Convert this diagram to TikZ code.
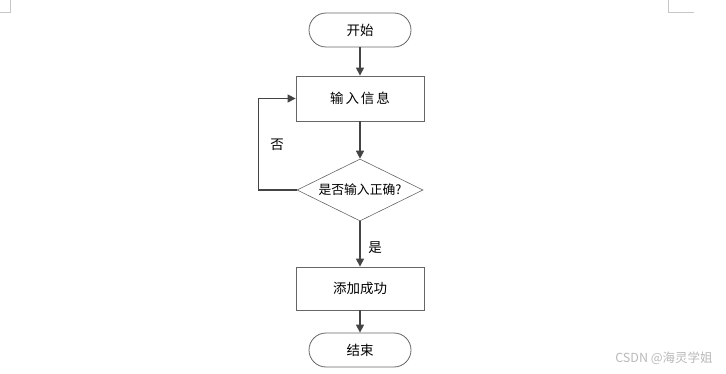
\documentclass[tikz,border=0pt]{standalone}
\usepackage{fontspec}
\setmainfont{Noto Sans CJK SC}
\usetikzlibrary{shapes.geometric,arrows.meta}
\definecolor{linegray}{HTML}{444444}
\definecolor{boxgray}{HTML}{666666}
\tikzset{
    term/.style={draw=boxgray, line width=0.8pt, rounded corners=17pt, minimum width=102pt, minimum height=34pt},
    proc/.style={draw=boxgray, line width=0.8pt, minimum width=128pt, minimum height=45pt},
    decision/.style={draw=boxgray, line width=0.6pt, diamond, aspect=2, inner sep=0pt, minimum width=126pt, minimum height=62pt},
    flow/.style={draw=linegray, line width=1.3pt}
}
\begin{document}
\begin{tikzpicture}[x=1pt, y=-1pt, >={Triangle[length=8pt,width=8pt]}, font=\fontsize{13.5}{15}\selectfont]
    \useasboundingbox (0,0) rectangle (726,374);

    % Page corners
    \draw[gray!45] (10,0) -- (10,12) -- (0,12);
    \draw[gray!45] (668,0) -- (668,12) -- (694,12);

    % Steps
    \node[term] (start) at (360,30) {开始};
    \node[proc] (input) at (360,98.5) {输\kern2pt 入\kern2pt 信\kern2pt 息};
    \node[decision, font=\fontsize{12.8}{14}\selectfont] (check) at (360,190) {是否输入正确?};
    \node[proc, minimum height=43pt] (added) at (360,288.5) {添加成功};
    \node[term] (stop) at (360,350) {结束};

    % Flow lines
    \draw[flow, ->] (start) -- (input);
    \draw[flow, ->] (input) -- (check);
    \draw[flow, ->] (check) -- (added);
    \draw[flow, ->] (added) -- (stop);
    \draw[flow, ->] (check.west) -- ++(-38,0) |- (input.west);

    % Branch labels
    \node (no) at (277,145) {否};
    \node (yes) at (375,248) {是};

    % Watermark
    \node[text=gray!55, font=\fontsize{12.5}{14}\selectfont] (mark) at (664,358) {CSDN @海灵学姐};
\end{tikzpicture}
\end{document}
